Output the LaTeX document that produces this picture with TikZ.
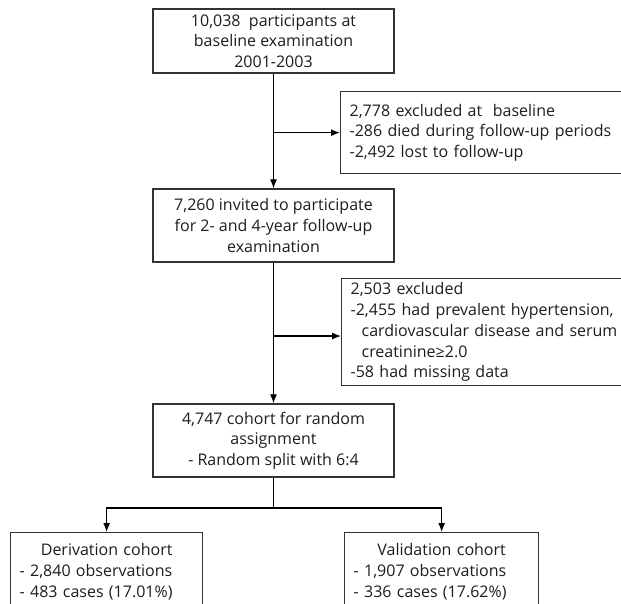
\documentclass[tikz,border=0pt]{standalone}
\usepackage{fontspec}
\setmainfont{Open Sans}
\usetikzlibrary{arrows.meta}
\definecolor{boxline}{HTML}{333333}
\definecolor{txt}{HTML}{1E1E1E}
\begin{document}
\begin{tikzpicture}[x=1pt,y=-1pt,
  box/.style={draw=boxline,line width=1.3pt,inner sep=0pt,text=txt,
    font=\fontsize{16}{20.7}\selectfont},
  cbox/.style={box,align=center,minimum width=241pt},
  lbox/.style={box,align=left,anchor=north west,inner xsep=9pt},
  arr/.style={line width=1.2pt,draw=black,-{Latex[length=9pt,width=7pt]}},
  ln/.style={line width=1.2pt,draw=black}]
\useasboundingbox (0,0) rectangle (621,603);
\clip (0,0) rectangle (621,603);
\fill[white] (0,0) rectangle (621,603);

\node[cbox,minimum height=64pt] (b1) at (273.5,41)
  {10,038\ \ participants at\\baseline examination\\2001-2003};
\node[lbox,text width=280pt,minimum height=82pt] (b2) at (340,91)
  {2,778 excluded at\ \ baseline\\-286 died during follow-up periods\\-2,492 lost to follow-up};
\node[cbox,minimum height=73pt] (b3) at (273.5,225.5)
  {7,260 invited to participate\\for 2- and 4-year follow-up\\examination};
\node[lbox,text width=280pt,minimum height=107pt] (b4) at (341,278)
  {2,503 excluded\\-2,455 had prevalent hypertension,\\\hspace*{11pt}cardiovascular disease and serum\\\hspace*{11pt}creatinine≥2.0\\-58 had missing data};
\node[cbox,minimum height=73pt] (b5) at (273.5,440.5)
  {4,747 cohort for random\\assignment\\- Random split with 6:4};
\node[lbox,text width=174pt,minimum height=78pt] (b6) at (10,532)
  {\makebox[\linewidth]{Derivation cohort}\\- 2,840 observations\\- 483 cases (17.01\%)};
\node[lbox,text width=176pt,minimum height=78pt] (b7) at (344,532)
  {\makebox[\linewidth]{Validation cohort}\\- 1,907 observations\\- 336 cases (17.62\%)};

\coordinate (j1) at (b1.south |- b2.west);
\coordinate (j2) at (273.5,336);
\coordinate (j3) at (341,336);
\coordinate (split) at (273.5,508);

\draw[arr] (b1.south) -- (b3.north);
\draw[arr] (j1) -- (b2.west);
\draw[arr] (b3.south) -- (b5.north);
\draw[arr] (j2) -- (j3);
\draw[ln] (b5.south) -- (split);
\draw[arr] (split) -| (b6.north);
\draw[arr] (split) -| (b7.north);
\end{tikzpicture}
\end{document}
